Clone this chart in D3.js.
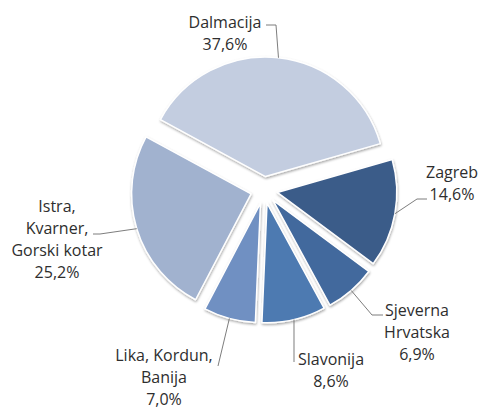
<!DOCTYPE html>
<html>
<head>
<meta charset="utf-8">
<script src="https://cdn.jsdelivr.net/npm/d3@7"></script>
<style>
  body { margin: 0; background: #fff; }
  text { font-family: "Open Sans", sans-serif; font-size: 16px; fill: #2e2e2e; }
</style>
</head>
<body>
<div id="chart"></div>
<script>
// Data
var regions = ['Dalmacija', 'Zagreb', 'Sjeverna Hrvatska', 'Slavonija', 'Lika, Kordun, Banija', 'Istra, Kvarner, Gorski kotar'];
var shares = [37.6, 14.6, 6.9, 8.6, 7.0, 25.2];
var nameLines = [['Dalmacija'], ['Zagreb'], ['Sjeverna', 'Hrvatska'], ['Slavonija'], ['Lika, Kordun,', 'Banija'], ['Istra,', 'Kvarner,', 'Gorski kotar']];
var colors = ['#c3cde0', '#3b5b89', '#42699d', '#4e7ab1', '#7090c2', '#a1b2cf'];

var width = 480;
var height = 410;
var cx = 264, cy = 190;
var radius = 119.5;
var explode = 13.5;

// label layout: text center x, first baseline, leader path after the arc point
var labelLayout = [
    { x: 225, y: 28, leader: [[276, 25], [266, 25]] },
    { x: 452, y: 178, leader: [[417, 199], [427, 199]] },
    { x: 417, y: 316, leader: [[372, 315], [383, 315]] },
    { x: 331, y: 365, leader: [[294, 362]] },
    { x: 164, y: 361, leader: [[218, 366]] },
    { x: 57, y: 212, leader: [[100, 234], [93, 234]] }
];
var lineHeight = 22;

var locale = d3.formatLocale({ decimal: ',', thousands: '.', grouping: [3], currency: ['', ' €'] });
var fmt = locale.format('.1f');

var svg = d3.select('#chart')
    .append('svg')
    .attr('width', width)
    .attr('height', height);

var defs = svg.append('defs');
var shadow = defs.append('filter')
    .attr('id', 'shadow')
    .attr('x', '-20%').attr('y', '-20%')
    .attr('width', '140%').attr('height', '140%');
shadow.append('feDropShadow')
    .attr('dx', 0.5)
    .attr('dy', 1.5)
    .attr('stdDeviation', 1.2)
    .attr('flood-color', '#000')
    .attr('flood-opacity', 0.35);

var start = -61.5 * Math.PI / 180;
var pie = d3.pie()
    .sort(null)
    .value(d => d)
    .startAngle(start)
    .endAngle(start + 2 * Math.PI);

var arcs = pie(shares);
var arc = d3.arc().innerRadius(0).outerRadius(radius);

function offset(d) {
    var mid = (d.startAngle + d.endAngle) / 2;
    return [explode * Math.sin(mid), -explode * Math.cos(mid)];
}

var chartGroup = svg.append('g')
    .attr('transform', `translate(${cx},${cy})`);

chartGroup.selectAll('path.slice')
    .data(arcs)
    .enter()
    .append('path')
    .attr('class', 'slice')
    .attr('transform', d => `translate(${offset(d)[0]},${offset(d)[1]})`)
    .attr('d', arc)
    .attr('fill', (d, i) => colors[i])
    .attr('stroke', '#fff')
    .attr('stroke-width', 1.5)
    .attr('stroke-linejoin', 'round')
    .attr('filter', 'url(#shadow)');

// leader lines
var line = d3.line();
arcs.forEach((d, i) => {
    var mid = (d.startAngle + d.endAngle) / 2;
    var o = offset(d);
    var p0 = [cx + o[0] + radius * Math.sin(mid), cy + o[1] - radius * Math.cos(mid)];
    var pts = [p0].concat(labelLayout[i].leader);
    svg.append('path')
        .attr('d', line(pts))
        .attr('fill', 'none')
        .attr('stroke', '#6e6e6e')
        .attr('stroke-width', 0.9);
});

// labels
arcs.forEach((d, i) => {
    var lines = nameLines[i].concat([fmt(shares[i]) + '%']);
    var t = svg.append('text')
        .attr('text-anchor', 'middle');
    lines.forEach((s, j) => {
        t.append('tspan')
            .attr('x', labelLayout[i].x)
            .attr('y', labelLayout[i].y + j * lineHeight)
            .text(s);
    });
});
</script>
</body>
</html>
